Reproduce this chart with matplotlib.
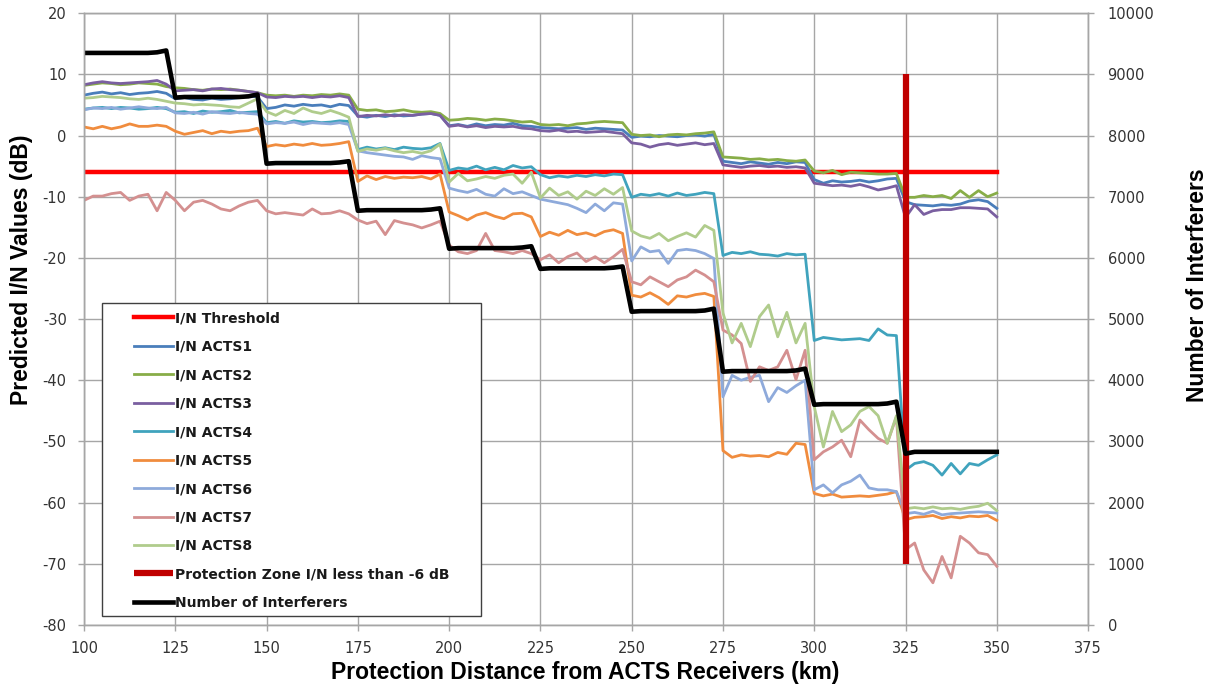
import numpy as np
import matplotlib.pyplot as plt
from matplotlib.patches import Rectangle

plt.rcParams['axes.unicode_minus'] = False

# distance samples (km), 2.5 km step
distance_km = np.arange(100, 350.01, 2.5)

threshold_x = [100, 350]
threshold_db = [-6, -6]
zone_x = [325, 325]
zone_db = [10, -70]

acts1 = [6.6, 6.9, 7.1, 6.8, 7.0, 6.7, 6.9, 7.0, 7.2, 6.9,
         6.0, 6.2, 5.9, 5.8, 6.1, 5.9, 6.0, 6.2, 6.5, 6.3,
         4.4, 4.6, 5.0, 4.8, 5.1, 4.9, 5.0, 4.7, 5.1, 4.9,
         3.2, 3.0, 3.3, 3.1, 3.4, 3.2, 3.3, 3.5, 3.6, 3.3,
         1.6, 1.8, 1.5, 1.9, 1.6, 1.8, 1.7, 2.0, 1.6, 1.5,
         1.3, 1.2, 1.1, 1.2, 1.3, 1.0, 1.2, 1.1, 1.0, 0.9,
         -0.3, -0.1, -0.2, 0.0, -0.1, -0.2, 0.0, 0.1, -0.1, 0.2,
         -4.2, -4.4, -4.6, -4.3, -4.5, -4.7, -4.4, -4.6, -4.3, -4.4,
         -7.2, -7.8, -7.4, -7.6, -7.5, -7.3, -7.6, -7.4, -7.1, -7.0,
         -10.8, -11.3, -11.4, -11.5, -11.3, -11.4, -11.2, -10.7, -10.5, -10.8, -11.9]
acts2 = [8.2, 8.4, 8.6, 8.5, 8.3, 8.4, 8.6, 8.5, 8.4, 8.0,
         7.8, 7.7, 7.5, 7.4, 7.6, 7.5, 7.6, 7.4, 7.2, 7.0,
         6.6, 6.5, 6.6, 6.4, 6.6, 6.5, 6.7, 6.6, 6.8, 6.6,
         4.3, 4.1, 4.2, 3.9, 4.0, 4.2, 3.9, 3.8, 3.9, 3.6,
         2.5, 2.6, 2.8, 2.7, 2.5, 2.7, 2.6, 2.4, 2.2, 2.3,
         1.8, 1.7, 1.8, 1.6, 1.9, 2.0, 2.2, 2.3, 2.2, 2.1,
         0.2, 0.0, 0.1, -0.2, 0.1, 0.2, 0.1, 0.3, 0.4, 0.6,
         -3.5, -3.6, -3.7, -3.9, -3.8, -4.0, -3.9, -4.1, -4.2, -4.0,
         -5.8, -6.1, -5.7, -6.4, -6.0, -6.1, -6.2, -6.3, -6.3, -6.2,
         -10.1, -10.1, -9.8, -10.0, -9.8, -10.3, -9.0, -10.1, -9.0, -10.0, -9.4]
acts3 = [8.3, 8.6, 8.8, 8.6, 8.5, 8.6, 8.7, 8.8, 9.0, 8.4,
         7.3, 7.4, 7.5, 7.3, 7.6, 7.7, 7.5, 7.4, 7.2, 7.0,
         6.3, 6.2, 6.4, 6.3, 6.4, 6.2, 6.4, 6.3, 6.5, 6.2,
         3.1, 3.3, 3.2, 3.4, 3.2, 3.4, 3.3, 3.5, 3.6, 3.3,
         1.5, 1.7, 1.4, 1.6, 1.3, 1.5, 1.4, 1.5, 1.2, 1.1,
         0.8, 0.7, 0.9, 0.6, 0.7, 0.5, 0.6, 0.7, 0.5, 0.3,
         -1.2, -1.4, -1.9, -1.5, -1.3, -1.6, -1.4, -1.2, -1.5, -1.3,
         -4.8, -5.0, -5.2, -5.0, -4.9, -5.1, -5.0, -5.2, -5.1, -5.3,
         -7.8, -8.0, -8.2, -8.1, -8.3, -8.0, -8.4, -8.9, -8.6, -8.2,
         -13.4, -11.3, -12.9, -12.3, -12.1, -12.1, -11.8, -11.8, -11.9, -12.0, -13.3]
acts4 = [4.3, 4.5, 4.6, 4.4, 4.6, 4.5, 4.3, 4.4, 4.6, 4.4,
         3.8, 3.9, 3.6, 4.0, 3.8, 3.9, 4.1, 3.7, 3.8, 3.9,
         2.1, 2.3, 2.0, 2.4, 2.2, 2.3, 2.1, 2.2, 2.4, 2.3,
         -2.3, -1.9, -2.2, -2.0, -2.3, -1.9, -2.1, -2.2, -2.0, -1.3,
         -5.7, -5.3, -5.5, -5.0, -5.6, -5.2, -5.6, -4.9, -5.3, -5.1,
         -6.4, -6.9, -6.6, -6.8, -6.5, -6.7, -6.4, -6.6, -6.3, -6.4,
         -10.1, -9.6, -9.8, -9.5, -9.9, -9.4, -9.8, -9.6, -9.3, -9.5,
         -19.6, -19.1, -19.3, -19.0, -19.4, -19.5, -19.7, -19.3, -19.5, -19.4,
         -33.5, -33.0, -33.2, -33.4, -33.3, -33.2, -33.5, -31.6, -32.6, -32.7,
         -54.7, -53.6, -53.3, -53.9, -55.5, -53.6, -55.3, -53.6, -53.9, -53.0, -52.2]
acts5 = [1.4, 1.1, 1.5, 1.1, 1.4, 1.9, 1.5, 1.5, 1.7, 1.5,
         0.7, 0.2, 0.5, 0.8, 0.3, 0.7, 0.5, 0.7, 0.8, 1.2,
         -1.8, -1.5, -1.7, -1.4, -1.6, -1.3, -1.6, -1.5, -1.3, -1.0,
         -7.5, -6.6, -7.2, -6.7, -7.0, -6.8, -6.9, -6.7, -7.1, -6.3,
         -12.5, -13.1, -13.8, -13.0, -12.6, -13.2, -13.6, -12.8, -12.7, -13.3,
         -16.5, -15.8, -16.3, -15.5, -16.2, -15.9, -16.4, -15.7, -15.4, -16.0,
         -26.1, -26.4, -25.7, -26.5, -27.6, -26.2, -26.4, -26.0, -25.8, -26.3,
         -51.5, -52.6, -52.2, -52.4, -52.3, -52.5, -51.8, -52.1, -50.3, -50.5,
         -58.5, -58.9, -58.6, -59.1, -59.0, -58.9, -59.0, -58.8, -58.6, -58.2,
         -62.8, -62.4, -62.3, -62.1, -62.6, -62.3, -62.5, -62.2, -62.3, -62.1, -62.9]
acts6 = [4.2, 4.5, 4.4, 4.6, 4.3, 4.5, 4.7, 4.5, 4.4, 4.6,
         3.7, 3.6, 3.8, 3.5, 3.9, 3.7, 3.6, 3.8, 3.6, 3.5,
         1.9, 2.1, 2.0, 2.2, 1.8, 2.1, 2.0, 1.9, 2.1, 1.8,
         -2.5, -2.8, -3.0, -3.2, -3.4, -3.5, -3.9, -3.3, -3.6, -3.8,
         -8.6, -9.0, -9.3, -8.8, -9.6, -9.9, -8.7, -9.5, -9.2, -9.8,
         -10.4, -10.7, -11.0, -11.3, -11.9, -12.6, -11.2, -12.3, -11.0, -11.2,
         -20.5, -18.2, -19.0, -18.8, -20.9, -18.8, -18.6, -18.8, -19.3, -20.1,
         -42.7, -39.2, -40.0, -39.5, -39.2, -43.5, -41.2, -42.0, -40.9, -40.0,
         -57.9, -57.1, -58.4, -57.1, -56.5, -55.5, -57.6, -57.9, -57.9, -58.2,
         -61.8, -61.6, -61.9, -61.4, -62.0, -61.8, -61.7, -61.6, -61.5, -61.6, -61.7]
acts7 = [-10.6, -9.9, -9.9, -9.5, -9.3, -10.6, -9.9, -9.6, -12.3, -9.3,
         -10.6, -12.3, -10.9, -10.6, -11.2, -12.0, -12.3, -11.5, -10.9, -10.6,
         -12.3, -12.8, -12.6, -12.8, -13.0, -12.0, -12.8, -12.7, -12.3, -12.8,
         -13.8, -14.4, -14.0, -16.2, -13.9, -14.3, -14.6, -15.1, -14.6, -14.0,
         -17.9, -19.0, -19.3, -18.8, -16.0, -18.8, -19.0, -19.3, -18.8, -19.3,
         -20.3, -19.5, -20.8, -19.8, -19.2, -20.6, -19.8, -20.8, -19.8, -18.6,
         -23.9, -24.4, -23.1, -23.9, -24.7, -23.6, -23.1, -22.0, -22.8, -23.9,
         -31.8, -32.6, -34.0, -40.2, -37.8, -38.4, -37.8, -35.1, -39.9, -35.1,
         -53.0, -51.7, -50.9, -49.8, -52.5, -46.5, -48.1, -49.5, -50.3, -46.0,
         -67.7, -66.6, -71.0, -73.1, -68.8, -72.3, -65.5, -66.6, -68.2, -68.5, -70.4]
acts8 = [6.1, 6.2, 6.4, 6.3, 6.2, 6.0, 5.9, 6.1, 5.9, 5.6,
         5.3, 5.2, 5.0, 5.1, 5.0, 4.9, 4.7, 4.6, 5.3, 6.0,
         3.9, 3.3, 4.1, 3.6, 4.5, 3.9, 3.6, 4.1, 3.6, 3.0,
         -2.6, -2.2, -2.4, -2.1, -2.5, -2.8, -2.6, -2.9, -2.5, -1.4,
         -7.6, -6.2, -7.4, -7.1, -6.7, -7.0, -6.5, -6.3, -7.8, -6.0,
         -10.2, -8.6, -9.8, -9.2, -10.4, -9.1, -9.8, -8.7, -9.6, -8.5,
         -15.6, -16.4, -16.8, -16.0, -17.2, -16.5, -15.9, -16.6, -14.7, -15.5,
         -29.0, -33.9, -30.7, -34.5, -29.6, -27.7, -32.9, -28.9, -33.9, -30.7,
         -44.3, -50.9, -45.1, -48.4, -47.3, -45.1, -44.3, -45.8, -50.3, -45.8,
         -61.0, -60.8, -61.0, -60.7, -61.0, -60.9, -61.1, -60.8, -60.6, -60.1, -61.3]
interferers = [9350, 9350, 9350, 9350, 9350, 9350, 9350, 9350, 9360, 9390,
               8620, 8630, 8630, 8630, 8630, 8630, 8630, 8630, 8640, 8670,
               7540, 7550, 7550, 7550, 7550, 7550, 7550, 7550, 7560, 7580,
               6770, 6780, 6780, 6780, 6780, 6780, 6780, 6780, 6790, 6810,
               6150, 6160, 6160, 6160, 6160, 6160, 6160, 6160, 6170, 6190,
               5820, 5830, 5830, 5830, 5830, 5830, 5830, 5830, 5840, 5860,
               5120, 5130, 5130, 5130, 5130, 5130, 5130, 5130, 5140, 5170,
               4140, 4150, 4150, 4150, 4150, 4150, 4150, 4150, 4160, 4190,
               3600, 3610, 3610, 3610, 3610, 3610, 3610, 3610, 3620, 3650,
               2800, 2830, 2830, 2830, 2830, 2830, 2830, 2830, 2830, 2830, 2830]

acts_series = [acts1, acts2, acts3, acts4, acts5, acts6, acts7, acts8]
acts_colors = ['#4A7EBB', '#88AD48', '#7A5FA0', '#40A3BD',
               '#F08C3E', '#8EAADB', '#D49090', '#B0CC8C']

fig = plt.figure(figsize=(12.13, 6.89), dpi=100)
ax = fig.add_axes([0.0693, 0.0929, 0.8277, 0.888])
ax2 = ax.twinx()

handles = []
h, = ax.plot(threshold_x, threshold_db, color='#FF0000', lw=3.2, label='I/N Threshold')
handles.append(h)
for i, (vals, c) in enumerate(zip(acts_series, acts_colors)):
    h, = ax.plot(distance_km, vals, color=c, lw=2.0, solid_joinstyle='round',
                 label='I/N ACTS%d' % (i + 1))
    handles.append(h)
h, = ax.plot(zone_x, zone_db, color='#C00000', lw=4.5, solid_capstyle='butt',
             label='Protection Zone I/N less than -6 dB')
handles.append(h)
h, = ax2.plot(distance_km, interferers, color='black', lw=3.3, solid_joinstyle='round',
              label='Number of Interferers')
handles.append(h)

ax.set_xlim(100, 375)
ax.set_ylim(-80, 20)
ax2.set_ylim(0, 10000)
ax.set_xticks(np.arange(100, 376, 25))
ax.set_yticks(np.arange(-80, 21, 10))
ax2.set_yticks(np.arange(0, 10001, 1000))

ax.grid(True, color='#A6A6A6', lw=1.0)
ax.set_axisbelow(True)
for a in (ax, ax2):
    for s in a.spines.values():
        s.set_color('#A6A6A6')
        s.set_linewidth(1.0)
    a.tick_params(axis='both', colors='#A6A6A6', labelcolor='#333333',
                  labelsize=10.5, length=4.5, width=1.0)
ax.tick_params(axis='y', pad=8)
ax.tick_params(axis='x', pad=7)
ax2.tick_params(axis='y', pad=9.5)

lab_font = dict(family=['Liberation Sans', 'DejaVu Sans'], weight='bold', size=16.5)
ax.set_xlabel('Protection Distance from ACTS Receivers (km)', **lab_font)
ax.set_ylabel('Predicted I/N Values (dB)', **lab_font)
ax2.set_ylabel('Number of Interferers', **lab_font)
ax.xaxis.set_label_coords(0.499, -0.077)
ax.yaxis.set_label_coords(-0.062, 0.58)
ax2.yaxis.set_label_coords(1.109, 0.556)
for lbl in (ax.xaxis.label, ax.yaxis.label, ax2.yaxis.label):
    lbl.set_va('center')
    lbl.set_ha('center')

# legend box
ax2.add_patch(Rectangle((0.018, 0.0147), 0.377, 0.511, transform=ax2.transAxes,
                        facecolor='white', edgecolor='#404040', lw=1.0, zorder=5))
leg = ax2.legend(handles, [h.get_label() for h in handles], loc='upper left',
                 bbox_to_anchor=(0.043, 0.524), frameon=False, borderpad=0,
                 prop=dict(family='DejaVu Sans', weight='bold', size=10),
                 handlelength=2.8, handletextpad=0.15, labelspacing=1.04)
leg.set_zorder(6)
for t in leg.get_texts():
    t.set_color('#1a1a1a')

fig.savefig('out.png', dpi=100)
